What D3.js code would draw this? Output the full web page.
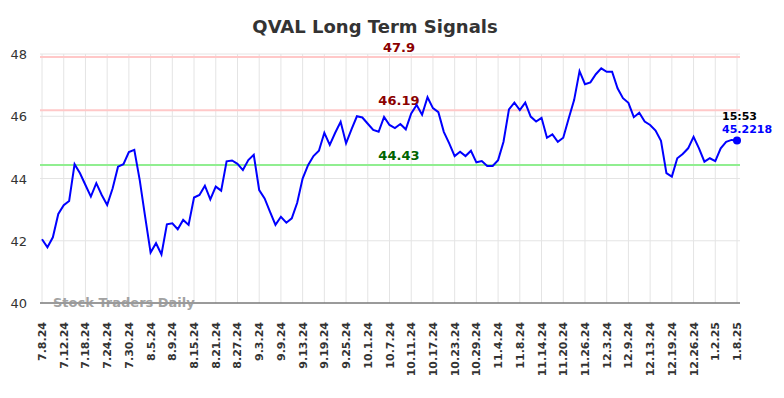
<!DOCTYPE html>
<html lang="en">
<head>
<meta charset="utf-8">
<title>QVAL Long Term Signals</title>
<style>
 body { margin: 0; font-family: "DejaVu Sans", sans-serif; background: #fff; }
</style>
<script src="https://d3js.org/d3.v7.min.js"></script>
</head>
<body>
<div id="chart"></div>
<script>
 // Data
 const dates = [
   '7.8.24','7.9.24','7.10.24','7.11.24','7.12.24','7.15.24','7.16.24','7.17.24','7.18.24','7.19.24',
   '7.22.24','7.23.24','7.24.24','7.25.24','7.26.24','7.29.24','7.30.24','7.31.24',
   '8.1.24','8.2.24','8.5.24','8.6.24','8.7.24','8.8.24','8.9.24','8.12.24','8.13.24','8.14.24',
   '8.15.24','8.16.24','8.19.24','8.20.24','8.21.24','8.22.24','8.23.24','8.26.24','8.27.24',
   '8.28.24','8.29.24','8.30.24',
   '9.3.24','9.4.24','9.5.24','9.6.24','9.9.24','9.10.24','9.11.24','9.12.24','9.13.24','9.16.24',
   '9.17.24','9.18.24','9.19.24','9.20.24','9.23.24','9.24.24','9.25.24','9.26.24','9.27.24','9.30.24',
   '10.1.24','10.2.24','10.3.24','10.4.24','10.7.24','10.8.24','10.9.24','10.10.24','10.11.24',
   '10.14.24','10.15.24','10.16.24','10.17.24','10.18.24','10.21.24','10.22.24','10.23.24',
   '10.24.24','10.25.24','10.28.24','10.29.24','10.30.24','10.31.24',
   '11.1.24','11.4.24','11.5.24','11.6.24','11.7.24','11.8.24','11.11.24','11.12.24','11.13.24',
   '11.14.24','11.15.24','11.18.24','11.19.24','11.20.24','11.21.24','11.22.24','11.25.24',
   '11.26.24','11.27.24','11.29.24',
   '12.2.24','12.3.24','12.4.24','12.5.24','12.6.24','12.9.24','12.10.24','12.11.24','12.12.24',
   '12.13.24','12.16.24','12.17.24','12.18.24','12.19.24','12.20.24','12.23.24','12.24.24',
   '12.26.24','12.27.24','12.30.24','12.31.24',
   '1.2.25','1.3.25','1.6.25','1.7.25','1.8.25'
 ];
 const prices = [
   42.05, 41.79, 42.11, 42.86, 43.14, 43.28, 44.46, 44.17, 43.79, 43.42,
   43.85, 43.47, 43.15, 43.68, 44.38, 44.46, 44.85, 44.92, 43.95, 42.77,
   41.62, 41.92, 41.56, 42.53, 42.56, 42.37, 42.67, 42.51, 43.39, 43.47,
   43.77, 43.33, 43.74, 43.61, 44.55, 44.58, 44.47, 44.27, 44.59, 44.76,
   43.63, 43.36, 42.93, 42.51, 42.77, 42.58, 42.72, 43.22, 44.00, 44.43,
   44.72, 44.89, 45.47, 45.08, 45.47, 45.82, 45.13, 45.58, 46.00, 45.96,
   45.76, 45.56, 45.50, 45.98, 45.72, 45.62, 45.75, 45.58, 46.09, 46.36,
   46.05, 46.61, 46.26, 46.13, 45.50, 45.13, 44.72, 44.86, 44.72, 44.89,
   44.52, 44.56, 44.40, 44.40, 44.59, 45.18, 46.22, 46.44, 46.20, 46.44,
   45.99, 45.83, 45.95, 45.31, 45.42, 45.18, 45.31, 45.93, 46.52, 47.45,
   47.03, 47.09, 47.35, 47.54, 47.43, 47.43, 46.90, 46.58, 46.43, 45.97,
   46.11, 45.83, 45.72, 45.54, 45.21, 44.17, 44.06, 44.65, 44.79, 44.97,
   45.34, 44.97, 44.54, 44.65, 44.56, 44.97, 45.18, 45.24, 45.2218
 ];
 const tickLabels = [
   '7.8.24','7.12.24','7.18.24','7.24.24','7.30.24','8.5.24','8.9.24','8.15.24','8.21.24','8.27.24',
   '9.3.24','9.9.24','9.13.24','9.19.24','9.25.24','10.1.24','10.7.24','10.11.24','10.17.24',
   '10.23.24','10.29.24','11.4.24','11.8.24','11.14.24','11.20.24','11.26.24','12.3.24','12.9.24',
   '12.13.24','12.19.24','12.26.24','1.2.25','1.8.25'
 ];
 const yTicks = [40, 42, 44, 46, 48];
 const resistance = [47.9, 46.19];
 const support = [44.43];
 const lastTime = '15:53';

 // Display specs
 const W = 784, H = 398;
 const margin = {top: 54, right: 44, bottom: 95, left: 40};
 const width = W - margin.left - margin.right;
 const height = H - margin.top - margin.bottom;

 const svg = d3.select('#chart').append('svg')
     .attr('width', W)
     .attr('height', H);

 const g = svg.append('g')
     .attr('transform', 'translate(' + margin.left + ',' + margin.top + ')');

 const x = d3.scalePoint().domain(dates).range([2, width - 3]);
 const y = d3.scaleLinear().domain([40, 48]).range([height, 0]);

 // Title
 svg.append('text')
    .attr('x', 375).attr('y', 33)
    .attr('text-anchor', 'middle')
    .style('font-size', '18px').style('font-weight', 'bold').style('fill', '#333')
    .text('QVAL Long Term Signals');

 // Grid
 g.append('g').selectAll('line.vg')
  .data(tickLabels).enter().append('line')
  .attr('x1', d => x(d)).attr('x2', d => x(d))
  .attr('y1', 0).attr('y2', height)
  .attr('stroke', '#e4e4e4').attr('stroke-width', 1);

 g.append('g').selectAll('line.hg')
  .data(yTicks).enter().append('line')
  .attr('x1', 0).attr('x2', width)
  .attr('y1', d => y(d)).attr('y2', d => y(d))
  .attr('stroke', '#e4e4e4').attr('stroke-width', 1);

 // Y labels
 g.append('g').selectAll('text')
  .data(yTicks).enter().append('text')
  .attr('x', -13).attr('y', d => y(d) + 5)
  .attr('text-anchor', 'end')
  .style('font-size', '13px').style('fill', '#333')
  .text(d => d);

 // Bottom axis line
 g.append('line')
  .attr('x1', 0).attr('x2', width)
  .attr('y1', height).attr('y2', height)
  .attr('stroke', '#444').attr('stroke-width', 1);

 // X labels
 g.append('g').selectAll('text')
  .data(tickLabels).enter().append('text')
  .attr('text-anchor', 'end')
  .attr('transform', d => 'translate(' + (x(d) + 4) + ',' + (height + 19) + ')rotate(-90)')
  .style('font-size', '11px').style('font-weight', 'bold').style('fill', '#333')
  .text(d => d);

 // Signal lines
 g.append('g').selectAll('line')
  .data(resistance).enter().append('line')
  .attr('x1', 0).attr('x2', width)
  .attr('y1', d => y(d)).attr('y2', d => y(d))
  .attr('stroke', '#ffc8c8').attr('stroke-width', 2);

 g.append('g').selectAll('line')
  .data(support).enter().append('line')
  .attr('x1', 0).attr('x2', width)
  .attr('y1', d => y(d)).attr('y2', d => y(d))
  .attr('stroke', '#90ee90').attr('stroke-width', 2);

 const labelX = x(dates[65]) + 4;
 g.append('g').selectAll('text')
  .data(resistance).enter().append('text')
  .attr('x', labelX).attr('y', d => y(d) - 5)
  .attr('text-anchor', 'middle')
  .style('font-size', '13px').style('font-weight', 'bold').style('fill', '#8b0000')
  .text(d => d);

 g.append('g').selectAll('text')
  .data(support).enter().append('text')
  .attr('x', labelX).attr('y', d => y(d) - 5)
  .attr('text-anchor', 'middle')
  .style('font-size', '13px').style('font-weight', 'bold').style('fill', '#006400')
  .text(d => d);

 // Watermark
 g.append('text')
  .attr('x', 13).attr('y', height + 4)
  .style('font-size', '13px').style('font-weight', 'bold').style('fill', '#999').style('opacity', 0.9)
  .text('Stock Traders Daily');

 // Price line
 const line = d3.line()
     .x((d, i) => x(dates[i]))
     .y(d => y(d));

 g.append('path')
  .datum(prices)
  .attr('d', line)
  .attr('fill', 'none')
  .attr('stroke', 'blue')
  .attr('stroke-width', 2);

 const lastI = prices.length - 1;
 const lx = x(dates[lastI]), ly = y(prices[lastI]);
 g.append('circle')
  .attr('cx', lx).attr('cy', ly).attr('r', 4)
  .attr('fill', 'blue');

 g.append('text')
  .attr('x', lx - 15).attr('y', ly - 20)
  .style('font-size', '11px').style('font-weight', 'bold').style('fill', '#000')
  .text(lastTime);

 g.append('text')
  .attr('x', lx - 15).attr('y', ly - 7)
  .style('font-size', '11px').style('font-weight', 'bold').style('fill', 'blue')
  .text(prices[lastI]);
</script>
</body>
</html>
